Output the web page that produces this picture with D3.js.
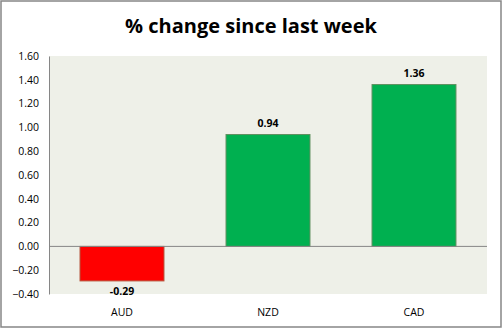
<!DOCTYPE html>
<html lang="en">
<head>
<meta charset="utf-8">
<title>% change since last week</title>
<script src="https://d3js.org/d3.v7.min.js"></script>
<style>
    body { margin: 0; background: #fff; }
    .axis text { font-family: "Open Sans", sans-serif; font-size: 10.5px; fill: #000; }
    .title { font-family: "Open Sans", sans-serif; font-weight: bold; font-size: 20px; }
    .val { font-family: "Open Sans", sans-serif; font-weight: bold; font-size: 10.5px; }
    .cat { font-family: "Open Sans", sans-serif; font-size: 10.5px; }
</style>
</head>
<body>
<div id="chart"></div>
<script>
var currencies = ["AUD", "NZD", "CAD"];
var changes = [-0.29, 0.94, 1.36];
var yTicks = [-0.4, -0.2, 0, 0.2, 0.4, 0.6, 0.8, 1.0, 1.2, 1.4, 1.6];

var w = 503, h = 329;
var plot = {left: 49, right: 487, top: 56, bottom: 294};

var svg = d3.select("#chart").append("svg").attr("width", w).attr("height", h);

// outer frame
svg.append("rect").attr("x", 1).attr("y", 1).attr("width", w - 3).attr("height", h - 3)
    .attr("fill", "#fff").attr("stroke", "#868686").attr("stroke-width", 1.5);

svg.append("text").attr("class", "title").attr("x", 251).attr("y", 33)
    .attr("text-anchor", "middle").text("% change since last week");

var x = d3.scaleBand().domain(currencies).range([plot.left, plot.right]).paddingInner(0.425).paddingOuter(0.2125);
var y = d3.scaleLinear().domain([-0.4, 1.6]).range([plot.bottom, plot.top]);

// plot area background
svg.append("rect").attr("x", plot.left).attr("y", plot.top)
    .attr("width", plot.right - plot.left).attr("height", plot.bottom - plot.top)
    .attr("fill", "#eef0e8");

// y axis
var yAxis = svg.append("g").attr("class", "axis").attr("transform", "translate(" + plot.left + ",0)")
    .call(d3.axisLeft(y).tickValues(yTicks).tickFormat(d3.format(".2f")).tickSize(0).tickPadding(10));
yAxis.select(".domain").attr("stroke", "#868686");

// bars
svg.selectAll("rect.bar").data(changes).enter().append("rect")
    .attr("class", "bar")
    .attr("x", function(d, i) { return x(currencies[i]); })
    .attr("y", function(d) { return y(Math.max(0, d)); })
    .attr("width", x.bandwidth())
    .attr("height", function(d) { return Math.abs(y(d) - y(0)); })
    .attr("fill", function(d) { return d < 0 ? "#ff0000" : "#00b050"; })
    .attr("stroke", function(d) { return d < 0 ? "#b5533a" : "#5f8f5f"; })
    .attr("stroke-width", 1);

// zero line
svg.append("line").attr("x1", plot.left).attr("x2", plot.right)
    .attr("y1", y(0)).attr("y2", y(0)).attr("stroke", "#868686").attr("stroke-width", 1);

// value labels
svg.selectAll("text.val").data(changes).enter().append("text")
    .attr("class", "val").attr("text-anchor", "middle")
    .attr("x", function(d, i) { return x(currencies[i]) + x.bandwidth() / 2; })
    .attr("y", function(d) { return d < 0 ? y(d) + 14 : y(d) - 8; })
    .text(function(d) { return d.toFixed(2); });

// category labels
svg.selectAll("text.cat").data(currencies).enter().append("text")
    .attr("class", "cat").attr("text-anchor", "middle")
    .attr("x", function(d) { return x(d) + x.bandwidth() / 2; })
    .attr("y", 316)
    .text(function(d) { return d; });
</script>
</body>
</html>
